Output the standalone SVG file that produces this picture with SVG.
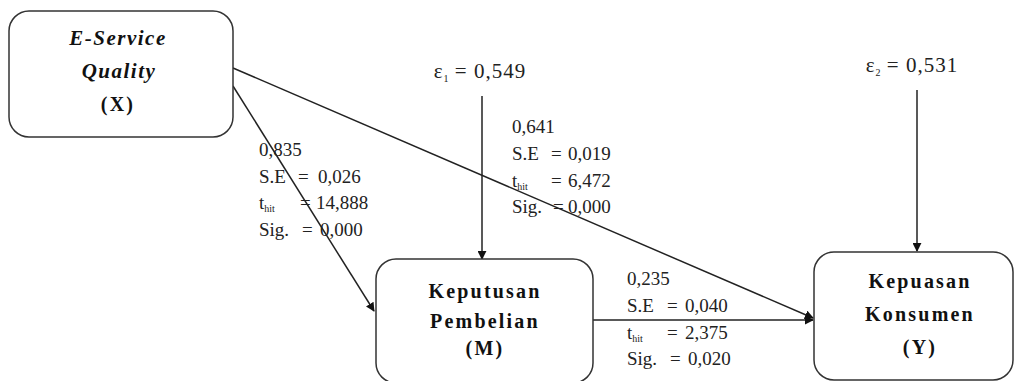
<svg xmlns="http://www.w3.org/2000/svg" width="1016" height="381" viewBox="0 0 1016 381">
<style>
.box{fill:#fff;stroke:#333;stroke-width:1.5}
.nt{font-size:20px;font-weight:bold;text-anchor:middle;fill:#111;letter-spacing:2.2px}
.it{font-style:italic;letter-spacing:1.5px;font-size:21px}
.lb{font-size:19px;fill:#222}
.sub{font-size:10px;letter-spacing:0}
.eps{font-size:21px;fill:#222;text-anchor:middle;letter-spacing:1px}
.ln{stroke:#222;stroke-width:1.5;fill:none;marker-end:url(#ah)}
</style>
<defs>
<marker id="ah" viewBox="0 0 10 10" refX="9" refY="5" markerWidth="9" markerHeight="9" markerUnits="userSpaceOnUse" orient="auto">
<path d="M0,0 L10,5 L0,10 z" fill="#111"/>
</marker>
</defs>
<rect width="1016" height="381" fill="#fff"/>
<g id="connectors">
<line class="ln" x1="233" y1="86" x2="374" y2="311"/>
<line class="ln" x1="233" y1="68" x2="813" y2="318"/>
<line class="ln" x1="593" y1="320" x2="813" y2="320"/>
<line class="ln" x1="482" y1="96" x2="482" y2="259"/>
<line class="ln" x1="917" y1="90" x2="917" y2="251"/>
</g>
<g font-family="Liberation Serif, DejaVu Serif, serif">
<g id="node-x">
<rect class="box" x="9" y="11" width="224" height="126" rx="20"/>
<text class="nt it" x="118" y="45">E-Service</text>
<text class="nt it" x="119" y="78">Quality</text>
<text class="nt" x="118" y="111">(X)</text>
</g>
<g id="node-m">
<rect class="box" x="376" y="259" width="217" height="124" rx="20"/>
<text class="nt" x="485" y="298">Keputusan</text>
<text class="nt" x="485" y="328">Pembelian</text>
<text class="nt" x="485" y="355">(M)</text>
</g>
<g id="node-y">
<rect class="box" x="814" y="252" width="199" height="128" rx="20"/>
<text class="nt" x="920" y="288">Kepuasan</text>
<text class="nt" x="920" y="321">Konsumen</text>
<text class="nt" x="920" y="354">(Y)</text>
</g>
<g id="eps1"><text class="eps" x="480" y="78">ε<tspan class="sub" dy="4">1</tspan><tspan dy="-4"> = 0,549</tspan></text></g>
<g id="eps2"><text class="eps" x="912" y="72">ε<tspan class="sub" dy="4">2</tspan><tspan dy="-4"> = 0,531</tspan></text></g>
<g id="label-xm">
<text class="lb" x="259" y="156">0,835</text>
<text class="lb" x="259" y="183">S.E<tspan x="298">=</tspan><tspan x="318">0,026</tspan></text>
<text class="lb" x="259" y="209">t<tspan class="sub" dy="3">hit</tspan><tspan dy="-3" x="300">=</tspan><tspan x="316">14,888</tspan></text>
<text class="lb" x="259" y="236">Sig.<tspan x="302">=</tspan><tspan x="320">0,000</tspan></text>
</g>
<g id="label-xy">
<text class="lb" x="512" y="133">0,641</text>
<text class="lb" x="512" y="160">S.E<tspan x="551">=</tspan><tspan x="568">0,019</tspan></text>
<text class="lb" x="512" y="187">t<tspan class="sub" dy="3">hit</tspan><tspan dy="-3" x="551">=</tspan><tspan x="568">6,472</tspan></text>
<text class="lb" x="512" y="213">Sig.<tspan x="553">=</tspan><tspan x="568">0,000</tspan></text>
</g>
<g id="label-my">
<text class="lb" x="627" y="285">0,235</text>
<text class="lb" x="627" y="312">S.E<tspan x="667">=</tspan><tspan x="685">0,040</tspan></text>
<text class="lb" x="627" y="339">t<tspan class="sub" dy="3">hit</tspan><tspan dy="-3" x="667">=</tspan><tspan x="685">2,375</tspan></text>
<text class="lb" x="627" y="365">Sig.<tspan x="670">=</tspan><tspan x="688">0,020</tspan></text>
</g>
</g>
</svg>
